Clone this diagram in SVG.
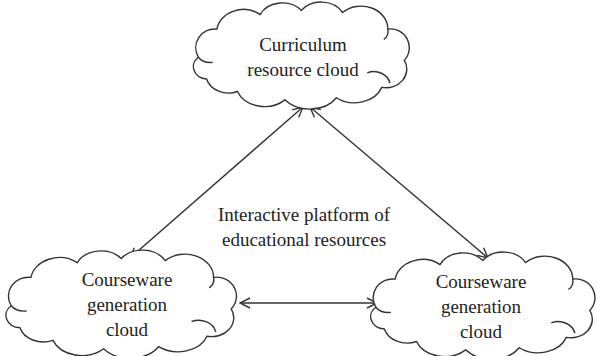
<svg xmlns="http://www.w3.org/2000/svg" width="597" height="356" viewBox="0 0 597 356">
<style>
.cloud{fill:#fff;stroke:#333;stroke-width:1.4;vector-effect:non-scaling-stroke}
.curl{fill:none;stroke:#333;stroke-width:1.4;vector-effect:non-scaling-stroke}
.lbl{font-size:19px;fill:#222;text-anchor:middle}
.conn{stroke:#333;stroke-width:1.4;fill:none;marker-start:url(#ah);marker-end:url(#ah)}
</style>
<defs>
<marker id="ah" viewBox="0 0 12 12" refX="11" refY="6" markerWidth="12" markerHeight="12" markerUnits="userSpaceOnUse" orient="auto-start-reverse">
<path d="M1,1 L11,6 L1,11" fill="none" stroke="#333" stroke-width="1.4"/>
</marker>
<g id="cloudshape">
<path class="cloud" d="M12,55 A18,18 0 0 1 30,28 A26,22 0 0 1 72,14 A24,20 0 0 1 112,10 A24,20 0 0 1 152,12 A26,22 0 0 1 196,28 A18,18 0 0 1 212,58 A20,18 0 0 1 190,84 A28,22 0 0 1 146,94 A30,22 0 0 1 96,96 A28,22 0 0 1 50,88 A22,18 0 0 1 20,76 A14,12 0 0 1 12,55 Z"/>
<path class="curl" d="M176,70 A16,14 0 0 1 198,80"/>
<path class="curl" d="M12,55 A14,10 0 0 0 26,60"/>
<path class="curl" d="M196,28 A10,10 0 0 1 192,38"/>
</g>
</defs>
<g id="connectors">
<line class="conn" x1="303" y1="107" x2="130" y2="258"/>
<line class="conn" x1="310" y1="107" x2="488" y2="258"/>
<line class="conn" x1="240" y1="303" x2="377" y2="303"/>
</g>
<g font-family="'Liberation Serif', 'Times New Roman', serif">
<g id="top-cloud">
<use href="#cloudshape" transform="translate(186,0) scale(1.03,1.04)"/>
<text class="lbl" x="303" y="51">Curriculum</text>
<text class="lbl" x="303" y="76">resource cloud</text>
</g>
<g id="left-cloud">
<use href="#cloudshape" transform="translate(-2,248) scale(1.1,1.05)"/>
<text class="lbl" x="127" y="286">Courseware</text>
<text class="lbl" x="127" y="311">generation</text>
<text class="lbl" x="127" y="336">cloud</text>
</g>
<g id="right-cloud">
<use href="#cloudshape" transform="translate(363,250) scale(1.07,1.04)"/>
<text class="lbl" x="481" y="288">Courseware</text>
<text class="lbl" x="481" y="313">generation</text>
<text class="lbl" x="481" y="338">cloud</text>
</g>
<g id="center-label">
<text class="lbl" x="304" y="221">Interactive platform of</text>
<text class="lbl" x="304" y="246">educational resources</text>
</g>
</g>
</svg>
